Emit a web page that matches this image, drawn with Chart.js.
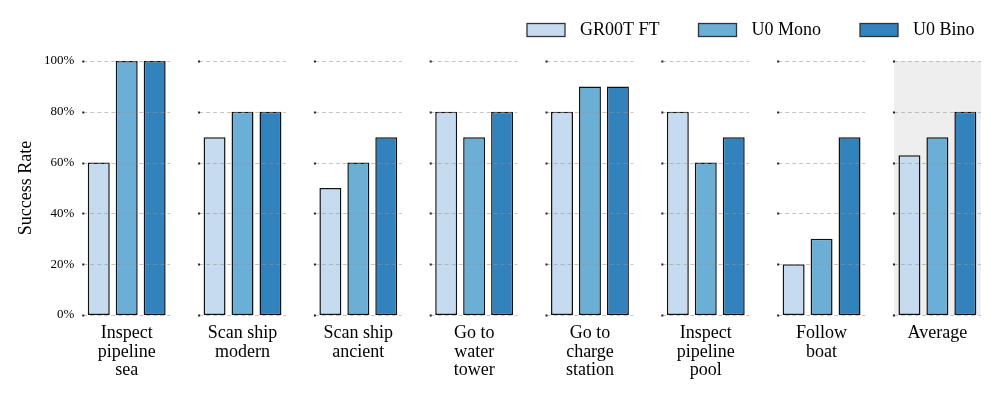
<!DOCTYPE html>
<html>
<head>
<meta charset="utf-8">
<script src="https://cdn.jsdelivr.net/npm/chart.js@4/dist/chart.umd.min.js"></script>
<style>
  html, body { margin: 0; padding: 0; background: #ffffff; }
  #wrap { width: 997px; height: 396px; position: relative; }
</style>
</head>
<body>
<div id="wrap"><canvas id="chart"></canvas></div>
<script>
// Chart data
const categories = [
    ['Inspect', 'pipeline', 'sea'],
    ['Scan ship', 'modern'],
    ['Scan ship', 'ancient'],
    ['Go to', 'water', 'tower'],
    ['Go to', 'charge', 'station'],
    ['Inspect', 'pipeline', 'pool'],
    ['Follow', 'boat'],
    ['Average']
];
const seriesNames = ['GR00T FT', 'U0 Mono', 'U0 Bino'];
const gr00tFT = [60, 70, 50, 80, 80, 80, 20, 62.9];
const u0Mono = [100, 80, 60, 70, 90, 60, 30, 70];
const u0Bino = [100, 80, 70, 80, 90, 70, 70, 80];
const yTicks = [0, 20, 40, 60, 80, 100];

const colors = ['#c6dbef', '#6baed6', '#3182bd'];
const serif = '"Liberation Serif", "DejaVu Serif", serif';

// per-group dashed grid, dots and the grey band behind "Average"
const groupGrid = {
    id: 'groupGrid',
    afterLayout(chart) {
        // let the y tick labels reach a bit into the plot area
        chart.scales.y.right += 5.5;
    },
    beforeDatasetsDraw(chart) {
        const { ctx, chartArea, scales: { x } } = chart;
        const half = (x.getPixelForValue(1) - x.getPixelForValue(0)) * 0.375;
        const cx = x.getPixelForValue(categories.length - 1);
        ctx.save();
        ctx.fillStyle = '#eeeeee';
        ctx.fillRect(cx - half, chartArea.top, half * 2, chartArea.bottom - chartArea.top);
        ctx.restore();
    },
    afterDatasetsDraw(chart) {
        const { ctx, scales: { x, y } } = chart;
        const half = (x.getPixelForValue(1) - x.getPixelForValue(0)) * 0.375;
        ctx.save();
        categories.forEach((c, i) => {
            const cx = x.getPixelForValue(i);
            yTicks.forEach(t => {
                const py = Math.round(y.getPixelForValue(t)) + 0.5;
                ctx.strokeStyle = 'rgba(150,150,150,0.55)';
                ctx.lineWidth = 1;
                ctx.setLineDash([4, 3]);
                ctx.beginPath();
                ctx.moveTo(cx - half, py);
                ctx.lineTo(cx + half, py);
                ctx.stroke();
                ctx.setLineDash([]);
                ctx.fillStyle = '#222';
                ctx.fillRect(cx - half - 1, py - 1, 2, 2);
            });
        });
        ctx.restore();
    }
};

// legend drawn at the top right
const topLegend = {
    id: 'topLegend',
    afterDraw(chart) {
        const ctx = chart.ctx;
        ctx.save();
        ctx.font = '18px ' + serif;
        ctx.textBaseline = 'middle';
        let lx = 527;
        const ly = 23.5;
        seriesNames.forEach((name, i) => {
            ctx.fillStyle = colors[i];
            ctx.fillRect(lx, ly, 38, 13);
            ctx.strokeStyle = '#333';
            ctx.lineWidth = 1.3;
            ctx.strokeRect(lx, ly, 38, 13);
            ctx.fillStyle = '#000';
            ctx.fillText(name, lx + 53, ly + 7);
            lx += 53 + ctx.measureText(name).width + 39;
        });
        ctx.restore();
    }
};

const datasets = [gr00tFT, u0Mono, u0Bino].map((vals, i) => ({
    label: seriesNames[i],
    data: vals,
    backgroundColor: colors[i],
    borderColor: '#111111',
    borderWidth: 1.5,
    borderSkipped: false,
    categoryPercentage: 0.724,
    barPercentage: 0.786
}));

new Chart(document.getElementById('chart'), {
    type: 'bar',
    data: { labels: categories, datasets: datasets },
    options: {
        responsive: true,
        maintainAspectRatio: false,
        animation: false,
        layout: { padding: { top: 61, right: 1.7, left: 0, bottom: 0 } },
        plugins: {
            legend: { display: false },
            tooltip: { enabled: false }
        },
        scales: {
            x: {
                grid: { display: false },
                border: { display: false },
                ticks: {
                    color: '#000',
                    font: { family: serif, size: 18, lineHeight: 1.03 },
                    padding: 1,
                    maxRotation: 0,
                    autoSkip: false
                },
                afterFit: s => { s.height = 81; }
            },
            y: {
                min: 0,
                max: 100,
                grid: { display: false, drawTicks: false },
                border: { display: false },
                ticks: {
                    stepSize: 20,
                    color: '#000',
                    font: { family: serif, size: 13 },
                    padding: 0,
                    callback: v => v + '%'
                },
                title: {
                    display: true,
                    text: 'Success Rate',
                    color: '#000',
                    font: { family: serif, size: 18 },
                    padding: { top: 15, bottom: 0 }
                },
                afterFit: s => { s.width = 68.8; }
            }
        }
    },
    plugins: [groupGrid, topLegend]
});
</script>
</body>
</html>
